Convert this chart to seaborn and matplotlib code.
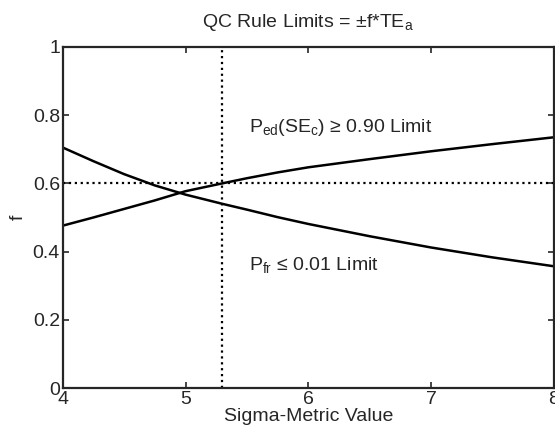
import matplotlib
matplotlib.use("Agg")
import matplotlib.pyplot as plt
import seaborn as sns
import pandas as pd

sigma = [4.0, 4.25, 4.5, 4.75, 5.0, 5.3, 5.5, 5.75, 6.0, 6.5, 7.0, 7.5, 8.0]
f_ped = [0.476, 0.500, 0.525, 0.550, 0.577, 0.600, 0.615, 0.632, 0.647, 0.671, 0.694, 0.715, 0.735]
f_pfr = [0.705, 0.665, 0.627, 0.594, 0.567, 0.540, 0.523, 0.501, 0.481, 0.445, 0.412, 0.383, 0.357]
sigma_mark = 5.3
f_mark = 0.6

sns.set_style("ticks")
plt.rcParams["font.family"] = ["Liberation Sans", "DejaVu Sans"]
plt.rcParams["mathtext.fontset"] = "custom"
plt.rcParams["mathtext.rm"] = "Liberation Sans"
plt.rcParams["mathtext.it"] = "Liberation Sans"

df = pd.DataFrame({"sigma": sigma, "ped": f_ped, "pfr": f_pfr})

fig = plt.figure(figsize=(5.55, 4.26), dpi=100)
ax = fig.add_axes([0.113, 0.089, 0.885, 0.801])

sns.lineplot(data=df, x="sigma", y="ped", color="black", lw=1.8, ax=ax)
sns.lineplot(data=df, x="sigma", y="pfr", color="black", lw=1.8, ax=ax)
ax.axvline(sigma_mark, color="black", ls=":", lw=1.6)
ax.axhline(f_mark, color="black", ls=":", lw=1.6)

ax.text(5.52, 0.765, r"$\mathregular{P_{ed}(SE_c)}$ ≥ 0.90 Limit", fontsize=14, va="center")
ax.text(5.52, 0.362, r"$\mathregular{P_{fr}}$ ≤ 0.01 Limit", fontsize=14, va="center")

ax.set_xlim(4, 8)
ax.set_ylim(0, 1)
ax.set_xticks([4, 5, 6, 7, 8])
ax.set_yticks([0, 0.2, 0.4, 0.6, 0.8, 1])
ax.set_yticklabels(["0", "0.2", "0.4", "0.6", "0.8", "1"])
ax.tick_params(direction="in", top=True, right=True, labelsize=14, length=4, width=1.2, pad=2)
for s in ax.spines.values():
    s.set_linewidth(1.6)
ax.set_xlabel("Sigma-Metric Value", fontsize=14, labelpad=0)
ax.set_ylabel("f", fontsize=14, labelpad=4)
ax.set_title(r"QC Rule Limits = ±f*$\mathregular{TE_a}$", fontsize=14, pad=14)

fig.savefig("out.png", dpi=100)
